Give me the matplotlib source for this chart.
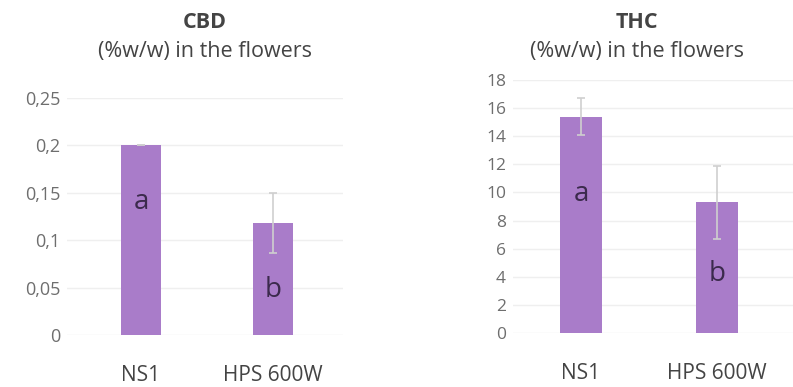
import matplotlib
matplotlib.use("Agg")
import matplotlib.pyplot as plt

plt.rcParams['font.family'] = ['Open Sans', 'DejaVu Sans']

categories = ["NS1", "HPS 600W"]
cbd_values = [0.2, 0.118]
cbd_err = [0.0, 0.032]
cbd_letters = ["a", "b"]
cbd_letter_y = [0.140, 0.047]
cbd_ticks = [0, 0.05, 0.1, 0.15, 0.2, 0.25]
cbd_ticklabels = ["0", "0,05", "0,1", "0,15", "0,2", "0,25"]

thc_values = [15.4, 9.3]
thc_err = [1.3, 2.6]
thc_letters = ["a", "b"]
thc_letter_y = [9.9, 4.2]
thc_ticks = list(range(0, 19, 2))
thc_ticklabels = [str(t) for t in thc_ticks]

bar_color = "#A97CC9"
err_color = "#CFCFCF"
grid_color = "#EFEFEF"
tick_color = "#6E6E6E"
text_color = "#444444"

fig = plt.figure(figsize=(7.93, 3.87), dpi=100)

def panel(rect, values, err, letters, letter_y, ticks, ticklabels, ylim, xlim, width, title, tx, tick_fs):
    ax = fig.add_axes(rect)
    x = list(range(len(categories)))
    ax.bar(x, values, width=width, color=bar_color, zorder=2)
    ax.errorbar(x, values, yerr=err, fmt='none', ecolor=err_color, elinewidth=1.2,
                capsize=3, capthick=1.2, zorder=3)
    for xi, l, ly in zip(x, letters, letter_y):
        ax.text(xi, ly, l, ha='center', va='center', fontsize=20, color="#3B2A4C", zorder=4)
    ax.set_ylim(*ylim)
    ax.set_xlim(*xlim)
    ax.set_yticks(ticks)
    ax.set_yticklabels(ticklabels, fontsize=tick_fs, color=tick_color)
    ax.set_xticks([])
    ax.tick_params(axis='y', length=0, pad=5)
    ax.yaxis.grid(True, color=grid_color, linewidth=1, zorder=0)
    for s in ax.spines.values():
        s.set_visible(False)
    for xi, c in zip(x, categories):
        ax.annotate(c, xy=(xi, 0), xycoords='data', xytext=(0, -29), textcoords='offset points',
                    ha='center', va='center', fontsize=15, color=text_color)
    fig.text(tx, 1 - 23 / 387, title, ha='center', va='center', fontsize=15.5,
             fontweight='bold', color=text_color)
    fig.text(tx, 1 - 52 / 387, "(%w/w) in the flowers", ha='center', va='center',
             fontsize=15.5, color=text_color)
    return ax

panel([67 / 793, 52 / 387, 276 / 793, 237 / 387], cbd_values, cbd_err, cbd_letters,
      cbd_letter_y, cbd_ticks, cbd_ticklabels, (0, 0.25), (-0.56, 1.53), 0.30, "CBD", 205 / 793, 13)
panel([513 / 793, 54 / 387, 280 / 793, 253 / 387], thc_values, thc_err, thc_letters,
      thc_letter_y, thc_ticks, thc_ticklabels, (0, 18), (-0.5, 1.56), 0.31, "THC", 637 / 793, 12.5)

fig.savefig("out.png", dpi=100)
